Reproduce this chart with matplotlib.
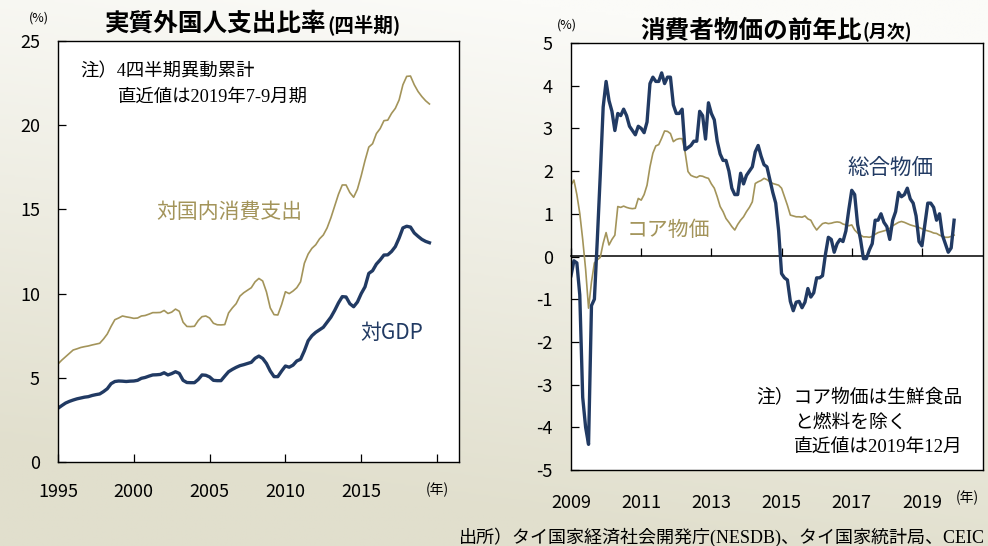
"""Thailand: foreign spending ratio (quarterly) and CPI y/y (monthly)."""

import numpy as np
import matplotlib
matplotlib.use("Agg")
import matplotlib.pyplot as plt
from matplotlib.colors import LinearSegmentedColormap

plt.rcParams["font.family"] = ["Noto Sans CJK JP", "DejaVu Sans"]
plt.rcParams["axes.unicode_minus"] = False

NAVY = "#213a63"
TAN = "#a3945a"
NOTE_FONT = ["Liberation Serif", "Noto Sans CJK JP"]

# ---- left panel: quarterly, 1995Q1 - 2019Q3 (4-quarter cumulative, %)
q_start = 1995
domestic_ratio = [
    5.82, 6.05, 6.25, 6.45,
    6.65, 6.72, 6.80, 6.85,
    6.89, 6.95, 7.00, 7.05,
    7.30, 7.60, 8.05, 8.45,
    8.55, 8.67, 8.62, 8.58,
    8.53, 8.55, 8.67, 8.70,
    8.78, 8.87, 8.87, 8.88,
    9.00, 8.82, 8.90, 9.08,
    8.95, 8.30, 8.05, 8.04,
    8.06, 8.40, 8.63, 8.67,
    8.55, 8.24, 8.15, 8.14,
    8.16, 8.85, 9.15, 9.40,
    9.85, 10.05, 10.20, 10.35,
    10.70, 10.90, 10.75, 10.10,
    9.15, 8.75, 8.73, 9.35,
    10.11, 10.00, 10.15, 10.35,
    10.70, 11.80, 12.35, 12.69,
    12.90, 13.25, 13.48, 13.90,
    14.50, 15.20, 15.90, 16.45,
    16.45, 16.00, 15.72, 16.20,
    17.00, 17.90, 18.70, 18.90,
    19.50, 19.80, 20.27, 20.30,
    20.70, 21.00, 21.50, 22.40,
    22.90, 22.92, 22.40, 22.00,
    21.70, 21.45, 21.26,
]
gdp_ratio = [
    3.19, 3.35, 3.50, 3.60,
    3.68, 3.75, 3.80, 3.85,
    3.88, 3.95, 4.00, 4.04,
    4.18, 4.35, 4.65, 4.78,
    4.81, 4.80, 4.78, 4.80,
    4.81, 4.85, 4.97, 5.02,
    5.10, 5.17, 5.18, 5.20,
    5.30, 5.17, 5.25, 5.36,
    5.26, 4.85, 4.72, 4.71,
    4.71, 4.90, 5.17, 5.15,
    5.05, 4.85, 4.83, 4.83,
    5.10, 5.36, 5.50, 5.62,
    5.72, 5.78, 5.85, 5.92,
    6.16, 6.29, 6.15, 5.85,
    5.40, 5.07, 5.07, 5.40,
    5.70, 5.63, 5.75, 6.00,
    6.10, 6.60, 7.20, 7.50,
    7.70, 7.85, 8.00, 8.30,
    8.60, 9.00, 9.45, 9.82,
    9.80, 9.40, 9.22, 9.50,
    10.00, 10.40, 11.20, 11.36,
    11.75, 12.00, 12.29, 12.30,
    12.50, 12.79, 13.30, 13.90,
    14.00, 13.95, 13.60, 13.40,
    13.22, 13.10, 13.02,
]
left_xticks = [1995, 2000, 2005, 2010, 2015, 2020]
left_xlabels = ["1995", "2000", "2005", "2010", "2015", "(年)"]

# ---- right panel: monthly, 2009/01 - 2019/12 (y/y, %)
m_start = 2009
cpi_headline = [
    -0.45, -0.10, -0.15, -0.90, -3.30, -4.00, -4.40, -1.15, -1.00, 0.40, 1.90, 3.50,
    4.10, 3.65, 3.40, 2.95, 3.35, 3.30, 3.45, 3.30, 3.05, 2.95, 2.85, 3.05,
    3.00, 2.90, 3.15, 4.05, 4.20, 4.10, 4.10, 4.30, 4.05, 4.20, 4.20, 3.55,
    3.35, 3.35, 3.45, 2.50, 2.55, 2.60, 2.70, 2.70, 3.40, 3.30, 2.75, 3.60,
    3.35, 3.20, 2.70, 2.40, 2.25, 2.25, 2.00, 1.60, 1.45, 1.45, 1.95, 1.70,
    1.90, 2.00, 2.10, 2.45, 2.60, 2.35, 2.15, 2.10, 1.80, 1.50, 1.25, 0.60,
    -0.40, -0.50, -0.55, -1.05, -1.27, -1.07, -1.05, -1.20, -1.07, -0.75, -0.95, -0.85,
    -0.50, -0.50, -0.45, 0.05, 0.45, 0.40, 0.10, 0.30, 0.40, 0.35, 0.60, 1.10,
    1.55, 1.45, 0.75, 0.40, -0.05, -0.05, 0.15, 0.30, 0.85, 0.85, 1.00, 0.80,
    0.70, 0.40, 0.85, 1.05, 1.50, 1.40, 1.45, 1.60, 1.35, 1.25, 0.95, 0.35,
    0.25, 0.75, 1.25, 1.25, 1.15, 0.85, 1.00, 0.50, 0.30, 0.10, 0.20, 0.85,
]
cpi_core = [
    1.67, 1.79, 1.45, 1.01, 0.40, -0.30, -1.21, -0.60, -0.15, -0.08, -0.02, 0.31,
    0.56, 0.27, 0.40, 0.50, 1.17, 1.15, 1.18, 1.15, 1.13, 1.12, 1.13, 1.36,
    1.32, 1.45, 1.67, 2.10, 2.42, 2.59, 2.62, 2.77, 2.94, 2.93, 2.88, 2.69,
    2.74, 2.76, 2.76, 2.45, 1.99, 1.90, 1.87, 1.85, 1.89, 1.88, 1.85, 1.83,
    1.70, 1.60, 1.40, 1.17, 1.05, 0.89, 0.80, 0.70, 0.62, 0.75, 0.85, 0.93,
    1.05, 1.15, 1.28, 1.71, 1.75, 1.78, 1.83, 1.80, 1.75, 1.71, 1.69, 1.67,
    1.60, 1.40, 1.20, 0.97, 0.95, 0.93, 0.93, 0.92, 0.95, 0.88, 0.85, 0.72,
    0.62, 0.70, 0.77, 0.79, 0.77, 0.78, 0.80, 0.81, 0.80, 0.76, 0.74, 0.72,
    0.74, 0.62, 0.55, 0.50, 0.46, 0.46, 0.45, 0.47, 0.52, 0.56, 0.58, 0.60,
    0.62, 0.66, 0.72, 0.76, 0.80, 0.82, 0.80, 0.77, 0.74, 0.72, 0.70, 0.68,
    0.65, 0.62, 0.60, 0.58, 0.55, 0.54, 0.50, 0.47, 0.45, 0.45, 0.47, 0.50,
]
right_xticks = [2009, 2011, 2013, 2015, 2017, 2019]

W, H = 988, 546


def px(x, y):
    """pixel position (from top-left) -> figure fraction"""
    return x / W, 1 - y / H


fig = plt.figure(figsize=(W / 100, H / 100), dpi=100)

# soft grey-beige background
bg = fig.add_axes([0, 0, 1, 1], zorder=-10)
yy, xx = np.mgrid[0:1:200j, 0:1:200j]
shade = np.clip(1.05 * yy + 0.25 * (1 - xx) - 0.12, 0, 1)
cmap = LinearSegmentedColormap.from_list("bg", ["#fbfbf8", "#e1dfcd"])
bg.imshow(shade, cmap=cmap, aspect="auto", extent=[0, 1, 0, 1], vmin=0, vmax=1)
bg.axis("off")

# ---- left
ax1 = fig.add_axes([58 / W, 1 - 462 / H, 401 / W, 421 / H])
q_x = q_start + np.arange(len(domestic_ratio)) / 4
ax1.plot(q_x, domestic_ratio, color=TAN, lw=1.2)
ax1.plot(q_x, gdp_ratio, color=NAVY, lw=2.4)
ax1.set_xlim(1995, 2021.45)
ax1.set_ylim(0, 25)
ax1.set_yticks(range(0, 26, 5))
ax1.set_xticks(left_xticks, left_xlabels)
ax1.tick_params(direction="in", length=6, width=0.9, labelsize=13, pad=13)
ax1.tick_params(axis="x", pad=15)
ax1.get_xticklabels()[-1].set_fontsize(10)

fig.text(*px(327, 24), "実質外国人支出比率", ha="right", va="center",
         fontsize=17.7, fontweight="bold")
fig.text(*px(327, 25), "(四半期)", ha="left", va="center",
         fontsize=14, fontweight="bold")
fig.text(*px(39, 18), "(%)", ha="center", va="center", fontsize=9)
fig.text(*px(80, 72), "注）4四半期異動累計", ha="left", va="center",
         fontsize=13.2, family=NOTE_FONT)
fig.text(*px(118, 97), "直近値は2019年7-9月期", ha="left", va="center",
         fontsize=13.2, family=NOTE_FONT)
fig.text(*px(229, 212), "対国内消費支出", ha="center", va="center",
         fontsize=15, color=TAN)
fig.text(*px(392, 333), "対GDP", ha="center", va="center",
         fontsize=15, color=NAVY)

# ---- right
ax2 = fig.add_axes([571 / W, 1 - 470 / H, 412 / W, 427 / H])
m_x = m_start + np.arange(len(cpi_headline)) / 12
ax2.plot(m_x, cpi_core, color=TAN, lw=1.2)
ax2.plot(m_x, cpi_headline, color=NAVY, lw=2.4)
ax2.set_xlim(2009, 2020.74)
ax2.set_ylim(-5, 5)
ax2.set_yticks(range(-5, 6))
ax2.set_xticks(right_xticks)
ax2.tick_params(axis="y", direction="in", length=6, width=0.9, labelsize=13, pad=13)
ax2.tick_params(axis="x", length=0, labelsize=13, pad=17)

# zero line carries the year ticks
zero = ax2.secondary_xaxis(0.5)
zero.set_xticks(right_xticks)
zero.tick_params(direction="out", length=6, width=0.9,
                 labelbottom=False, labeltop=False)
for sp in zero.spines.values():
    sp.set_linewidth(1.1)

fig.text(*px(862, 30), "消費者物価の前年比", ha="right", va="center",
         fontsize=17.7, fontweight="bold")
fig.text(*px(862, 32), "(月次)", ha="left", va="center",
         fontsize=13, fontweight="bold")
fig.text(*px(567, 25), "(%)", ha="center", va="center", fontsize=9)
fig.text(*px(967, 498), "(年)", ha="center", va="center", fontsize=10)
fig.text(*px(890, 168), "総合物価", ha="center", va="center",
         fontsize=15.5, color=NAVY)
fig.text(*px(668, 230), "コア物価", ha="center", va="center",
         fontsize=15, color=TAN)
fig.text(*px(756, 398), "注）コア物価は生鮮食品", ha="left", va="center",
         fontsize=13.5, family=NOTE_FONT)
fig.text(*px(794, 423), "と燃料を除く", ha="left", va="center",
         fontsize=13.5, family=NOTE_FONT)
fig.text(*px(794, 448), "直近値は2019年12月", ha="left", va="center",
         fontsize=13.5, family=NOTE_FONT)

fig.text(*px(985, 537), "出所）タイ国家経済社会開発庁(NESDB)、タイ国家統計局、CEIC",
         ha="right", va="center", fontsize=13, family=NOTE_FONT)

for ax in (ax1, ax2):
    for sp in ax.spines.values():
        sp.set_linewidth(1.0)

fig.savefig("out.png", dpi=100)
